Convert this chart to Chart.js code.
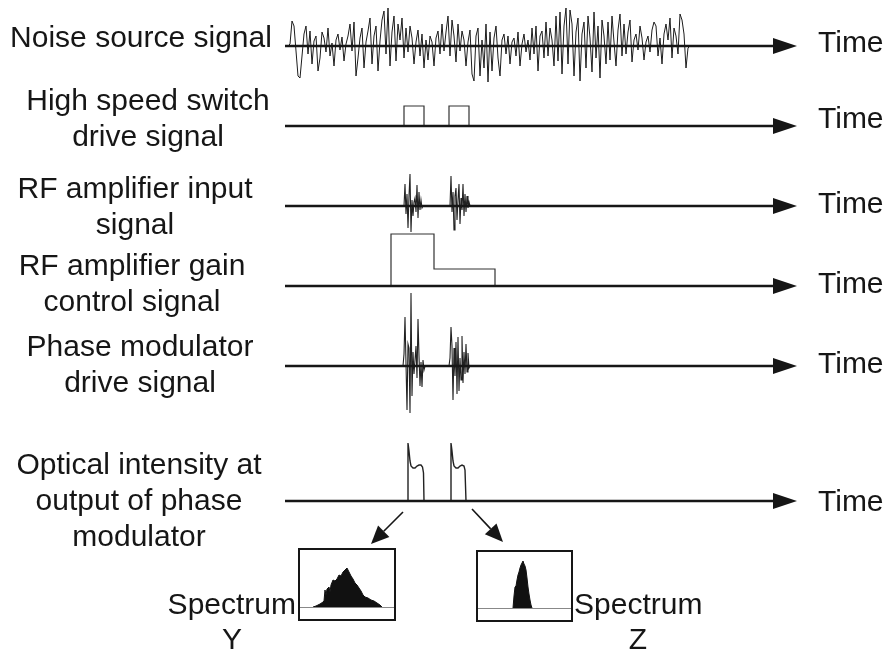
<!DOCTYPE html>
<html>
<head>
<meta charset="utf-8">
<script src="https://cdn.jsdelivr.net/npm/chart.js@4/dist/chart.umd.min.js"></script>
<style>
    html, body { margin: 0; padding: 0; background: #fff; }
    #wrap { width: 887px; height: 654px; }
</style>
</head>
<body>
<div id="wrap"><canvas id="diagram" width="887" height="654"></canvas></div>
<script>
// ---- signal data (time on x, amplitude up = positive) ----

// noise source: one sample every 2 time units starting at t = 288
const noiseStart = 288;
const noiseStep = 2;
const noiseAmp = [
    0, 2, 25, 20, -5, -30, -32, -10, 12, 20,
    -8, 15, -18, 5, 10, -25, -12, 14, 8, -6,
    18, -10, 3, -20, 6, 12, -4, 9, -15, 2,
    10, 22, -5, 24, -30, -12, 8, 18, -22, 4,
    15, 28, -18, 10, 20, -25, 5, 26, 35, -8,
    38, -20, 14, 30, -15, 22, 6, 28, -12, 18,
    -6, 20, 8, -18, 4, 16, -10, 12, -22, 6,
    -14, 10, 4, -20, 8, 15, -8, 22, -5, 14,
    30, -10, 26, 10, -16, 22, -5, 15, 6, -20,
    4, 16, -28, -35, 10, 18, -30, 6, -22, 22,
    -36, 14, -25, 8, 20, -12, -30, 6, 12, -8,
    10, -18, 4, 8, -10, 14, -20, 2, 12, -6,
    6, -14, 18, -8, 20, -25, 10, 15, -12, 24,
    -10, 18, 6, -20, 30, -15, 34, -28, 20, 38,
    -18, 36, 22, -30, 14, 28, -35, 12, 24, -22,
    30, 8, -26, 34, -12, 20, -32, 26, 10, -18,
    24, -14, 30, 4, -20, 16, 32, -10, 22, -8,
    14, 26, -16, 6, 12, -4, 20, 8, -14, 4,
    10, -6, 16, 24, 20, -10, 8, -18, 12, 22,
    6, 28, -12, 18, 10, -8, 32, 26, 12, -22,
    -2, 0
];

// high speed switch drive: two square gates
const switchTimes = [404, 404, 424, 424, 449, 449, 469, 469];
const switchLevel = [0, 20, 20, 0, 0, 20, 20, 0];

// RF amplifier input: two gated noise bursts, 1 sample per time unit
const rfBurst1Start = 404;
const rfBurst1 = [0, 22, -8, 12, -22, 10, 32, -26, 6, -10, 4, 8, -6, 21, -12, 14, -4, 6, -2, 0];
const rfBurst2Start = 450;
const rfBurst2 = [0, 30, -6, 14, -24, 10, 18, -14, 6, 22, -18, 8, -4, 22, -10, 12, -6, 10, -2, 4, 0];

// RF amplifier gain control: high then low step
const gainTimes = [391, 391, 434, 434, 495, 495];
const gainLevel = [0, 52, 52, 17, 17, 0];

// phase modulator drive: amplified bursts
const phaseBurst1Start = 403;
const phaseBurst1 = [0, 12, 49, 2, -44, 22, 18, -47, 73, -30, 14, -8, 6, 20, -12, 47, 10, -20, 4, -21, 6, -4, 0];
const phaseBurst2Start = 449;
const phaseBurst2 = [0, 8, 39, 20, -34, 18, -10, 24, -28, 29, -25, 8, -14, 30, -17, 14, -8, 22, -6, 13, -2, 0];

// optical intensity at output of phase modulator
const opticalTimes = [408, 408, 409, 410, 411, 413, 415, 417, 419, 421, 422.5, 423.5, 424,
                      451, 451, 452, 453, 454, 456, 458, 460, 462, 464, 465, 466];
const opticalLevel = [0, 58, 50, 40, 35, 33, 33, 35, 36, 36, 34, 28, 0,
                      0, 58, 50, 40, 35, 33, 33, 35, 36, 35, 31, 0];

// spectra (frequency, power)
const specYFreq = [313, 316, 320, 323, 324, 325, 326, 327, 329, 330, 331, 333, 335, 337, 339, 341, 343, 345, 347,
                   349, 351, 353, 355, 357, 359, 361, 363, 365, 368, 371, 374, 377, 380, 382];
const specYPower = [0, 1, 3, 5, 6, 17, 12, 18, 20, 15, 22, 27, 26, 28, 32, 31, 35, 37, 39,
                    35, 31, 28, 24, 22, 19, 16, 12, 10, 9, 7, 6, 4, 2, 0];
const specZFreq = [513, 514, 515, 516, 517, 518, 519, 520, 521, 522, 523, 524, 525, 526, 527, 528, 529, 530, 531, 532];
const specZPower = [0, 12, 21, 22, 28, 33, 36, 40, 43, 45, 47, 44, 42, 38, 30, 21, 14, 8, 3, 0];

// ---- labels ----
const rowLabels = [
    ['Noise source signal'],
    ['High speed switch', 'drive signal'],
    ['RF amplifier input', 'signal'],
    ['RF amplifier gain', 'control signal'],
    ['Phase modulator', 'drive signal'],
    ['Optical intensity at', 'output of phase', 'modulator']
];
const axisLabel = 'Time';
const spectrumLabels = [['Spectrum', 'Y'], ['Spectrum', 'Z']];

// ---- layout ----
const rowBase = [46, 126, 206, 286, 366, 501];
const labelCenterX = [141, 148, 135, 132, 140, 139];
const labelFirstBaseline = [47, 110, 198, 275, 356, 474];
const lineGap = 36;
const timeLabelBaseline = [52, 128, 213, 293, 373, 511];
const axisStart = 285, arrowBase = 773, arrowTip = 797;
const specYBox = { left: 299, right: 395, top: 549, bottom: 620, base: 607 };
const specZBox = { left: 477, right: 572, top: 551, bottom: 621, base: 608 };
const FONT = '30px "Liberation Sans", Arial, Helvetica, sans-serif';
const INK = '#161616';

function toPoints(times, amps, base) {
    return times.map((t, i) => ({ x: t, y: base - amps[i] }));
}
function sampledPoints(start, step, amps, base) {
    return amps.map((a, i) => ({ x: start + i * step, y: base - a }));
}

const datasets = [];

// time axes (drawn on top)
rowBase.forEach(b => {
    datasets.push({
        data: [{ x: axisStart, y: b }, { x: arrowBase + 2, y: b }],
        borderColor: INK, borderWidth: 2.4
    });
});

datasets.push({
    data: sampledPoints(noiseStart, noiseStep, noiseAmp, rowBase[0]),
    borderColor: '#1c1c1c', borderWidth: 1
});
datasets.push({
    data: toPoints(switchTimes, switchLevel, rowBase[1]),
    borderColor: '#333', borderWidth: 1.2
});
datasets.push({
    data: sampledPoints(rfBurst1Start, 1, rfBurst1, rowBase[2]),
    borderColor: '#222', borderWidth: 1.1
});
datasets.push({
    data: sampledPoints(rfBurst2Start, 1, rfBurst2, rowBase[2]),
    borderColor: '#222', borderWidth: 1.1
});
datasets.push({
    data: toPoints(gainTimes, gainLevel, rowBase[3]),
    borderColor: '#333', borderWidth: 1.2
});
datasets.push({
    data: sampledPoints(phaseBurst1Start, 1, phaseBurst1, rowBase[4]),
    borderColor: '#222', borderWidth: 1.1
});
datasets.push({
    data: sampledPoints(phaseBurst2Start, 1, phaseBurst2, rowBase[4]),
    borderColor: '#222', borderWidth: 1.1
});
datasets.push({
    data: toPoints(opticalTimes.slice(0, 13), opticalLevel.slice(0, 13), rowBase[5]),
    borderColor: '#222', borderWidth: 1.4
});
datasets.push({
    data: toPoints(opticalTimes.slice(13), opticalLevel.slice(13), rowBase[5]),
    borderColor: '#222', borderWidth: 1.4
});
datasets.push({
    data: toPoints(specYFreq, specYPower, specYBox.base),
    borderColor: '#111', borderWidth: 1, backgroundColor: '#111',
    fill: { value: specYBox.base }
});
datasets.push({
    data: toPoints(specZFreq, specZPower, specZBox.base),
    borderColor: '#111', borderWidth: 1, backgroundColor: '#111',
    fill: { value: specZBox.base }
});

function arrow(ctx, x1, y1, x2, y2, len, half) {
    const ang = Math.atan2(y2 - y1, x2 - x1);
    const bx = x2 - len * Math.cos(ang), by = y2 - len * Math.sin(ang);
    ctx.beginPath();
    ctx.moveTo(x1, y1);
    ctx.lineTo(bx, by);
    ctx.stroke();
    ctx.beginPath();
    ctx.moveTo(x2, y2);
    ctx.lineTo(bx + half * Math.sin(ang), by - half * Math.cos(ang));
    ctx.lineTo(bx - half * Math.sin(ang), by + half * Math.cos(ang));
    ctx.closePath();
    ctx.fill();
}

const diagramDecor = {
    id: 'diagramDecor',
    afterDatasetsDraw(chart) {
        const { ctx, scales: { x, y } } = chart;
        const px = v => x.getPixelForValue(v);
        const py = v => y.getPixelForValue(v);
        ctx.save();
        ctx.fillStyle = INK;
        ctx.strokeStyle = INK;

        // arrowheads on the time axes
        rowBase.forEach(b => {
            ctx.beginPath();
            ctx.moveTo(px(arrowBase), py(b) - 8);
            ctx.lineTo(px(arrowTip), py(b));
            ctx.lineTo(px(arrowBase), py(b) + 8);
            ctx.closePath();
            ctx.fill();
        });

        // diagonal arrows down to the spectra
        ctx.lineWidth = 1.6;
        arrow(ctx, px(403), py(512), px(371), py(544), 18, 8);
        arrow(ctx, px(472), py(509), px(503), py(542), 18, 8);

        // spectrum boxes
        [specYBox, specZBox].forEach(bx => {
            ctx.strokeStyle = '#888';
            ctx.lineWidth = 1;
            ctx.beginPath();
            ctx.moveTo(px(bx.left), py(bx.base) + 0.5);
            ctx.lineTo(px(bx.right), py(bx.base) + 0.5);
            ctx.stroke();
            ctx.strokeStyle = INK;
            ctx.lineWidth = 2;
            ctx.strokeRect(px(bx.left), py(bx.top), px(bx.right) - px(bx.left), py(bx.bottom) - py(bx.top));
        });

        // text
        ctx.font = FONT;
        ctx.textBaseline = 'alphabetic';
        ctx.textAlign = 'center';
        rowLabels.forEach((lines, r) => {
            lines.forEach((txt, k) => {
                ctx.fillText(txt, labelCenterX[r], labelFirstBaseline[r] + k * lineGap);
            });
        });
        ctx.textAlign = 'left';
        timeLabelBaseline.forEach(b => ctx.fillText(axisLabel, 818, b));

        ctx.textAlign = 'right';
        ctx.fillText(spectrumLabels[0][0], 296, 614);
        ctx.textAlign = 'left';
        ctx.fillText(spectrumLabels[1][0], 574, 614);
        ctx.textAlign = 'center';
        ctx.fillText(spectrumLabels[0][1], 232, 649);
        ctx.fillText(spectrumLabels[1][1], 638, 649);
        ctx.restore();
    }
};

new Chart(document.getElementById('diagram').getContext('2d'), {
    type: 'line',
    data: { datasets },
    options: {
        responsive: false,
        animation: false,
        devicePixelRatio: 1,
        events: [],
        layout: { padding: 0 },
        elements: { point: { radius: 0 }, line: { tension: 0 } },
        plugins: { legend: { display: false }, tooltip: { enabled: false } },
        scales: {
            x: { type: 'linear', min: 0, max: 887, display: false },
            y: { type: 'linear', min: 0, max: 654, reverse: true, display: false }
        }
    },
    plugins: [diagramDecor]
});
</script>
</body>
</html>
